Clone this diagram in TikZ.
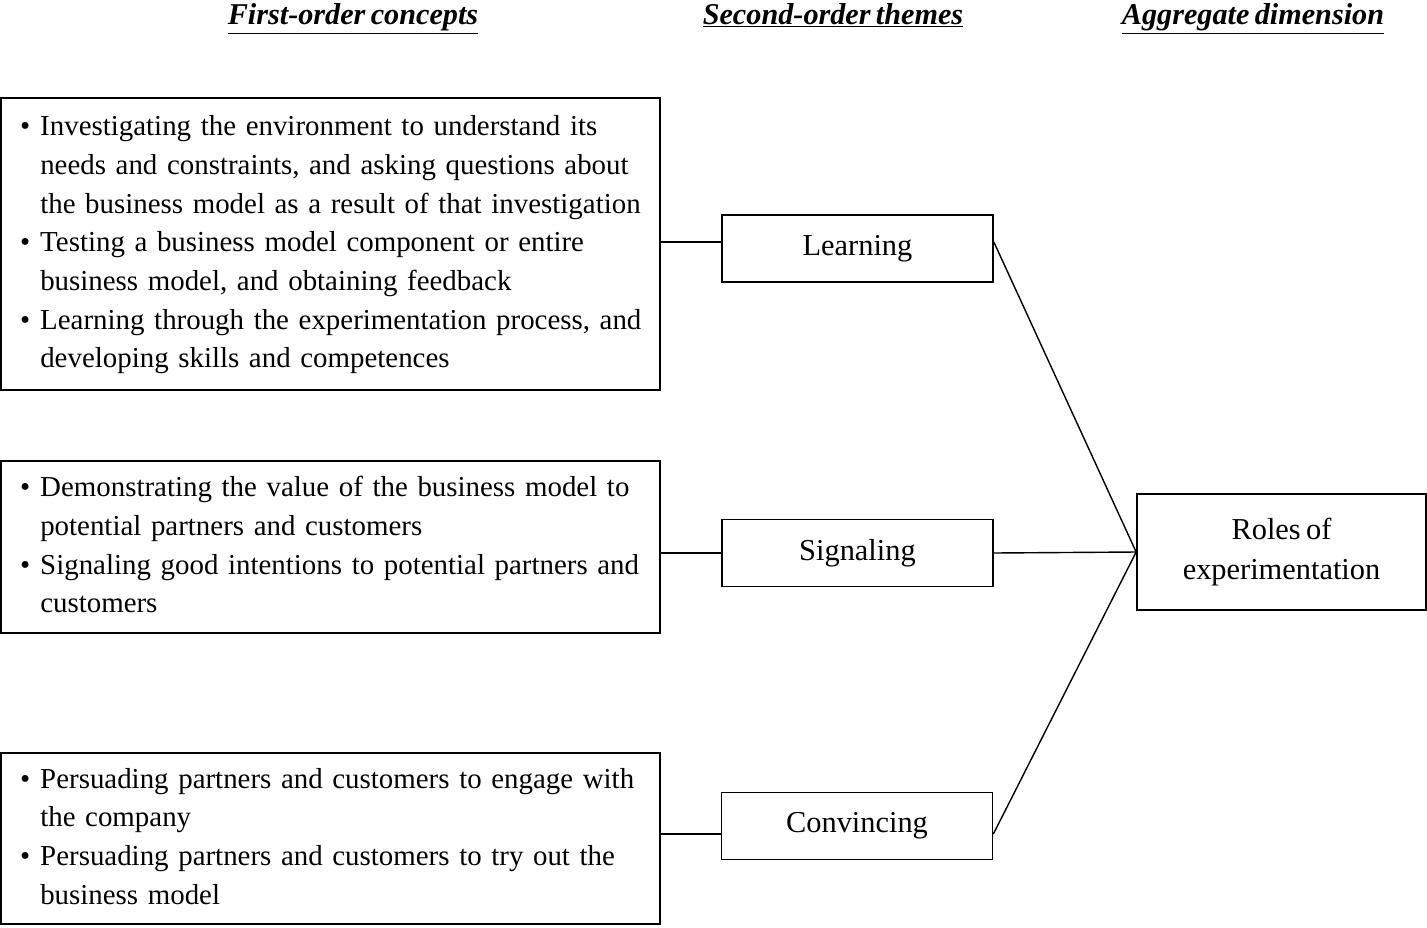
\documentclass[tikz,border=0pt]{standalone}
\usepackage{fontspec}
\setmainfont[WordSpace=0.7]{Liberation Serif}
\newcommand{\bul}{\makebox[11.5pt][l]{\textbullet}}

\begin{document}
\begin{tikzpicture}[x=0.02cm,y=-0.02cm,
    concept/.style={draw, line width=1pt, text width=12.42cm, inner xsep=0.38cm,
      minimum height=#1, align=left, font=\fontsize{16.45}{22}\selectfont},
    theme/.style={draw, line width=1pt, minimum width=5.42cm, minimum height=1.34cm,
      font=\fontsize{17.3}{22.6}\selectfont},
    heading/.style={anchor=base, font=\fontsize{17.2}{20}\selectfont\bfseries\itshape},
    link/.style={line width=0.8pt}]
            % Draw frame
            \useasboundingbox (0,0) rectangle (1427,927);

            % Draw headings
            \node[heading] (h1) at (353,24) {\underline{First-order concepts}};
            \node[heading] (h2) at (833,24) {\underline{Second-order themes}};
            \node[heading] (h3) at (1253,24) {\underline{Aggregate dimension}};

            % Draw first-order boxes
            \node[concept=5.84cm] (inv) at (330.5,244) {\begin{tabular}{@{}l@{}l@{}}
              \bul & Investigating the environment to understand its\\
                   & needs and constraints, and asking questions about\\
                   & the business model as a result of that investigation\\
              \bul & Testing a business model component or entire\\
                   & business model, and obtaining feedback\\
              \bul & Learning through the experimentation process, and\\
                   & developing skills and competences
              \end{tabular}};
            \node[concept=3.44cm] (dem) at (330.5,547) {\begin{tabular}{@{}l@{}l@{}}
              \bul & Demonstrating the value of the business model to\\
                   & potential partners and customers\\
              \bul & Signaling good intentions to potential partners and\\
                   & customers
              \end{tabular}};
            \node[concept=3.42cm] (per) at (330.5,838.5) {\begin{tabular}{@{}l@{}l@{}}
              \bul & Persuading partners and customers to engage with\\
                   & the company\\
              \bul & Persuading partners and customers to try out the\\
                   & business model
              \end{tabular}};

            % Draw themes
            \node[theme] (learning) at (857.5,248.5) {Learning};
            \node[theme] (signaling) at (857.5,553) {Signaling};
            \node[theme] (convincing) at (857,826) {Convincing};
            \node[theme, minimum width=5.78cm, minimum height=2.32cm, align=center] (roles) at (1281.5,552) {Roles of\\experimentation};

            % Draw links
            \draw[link] ([yshift=0.13cm]learning.west) -- ([yshift=0.13cm]learning.west -| inv.east);
            \draw[link] (signaling.west) -- (signaling.west -| dem.east);
            \draw[link] ([yshift=-0.16cm]convincing.west) -- ([yshift=-0.16cm]convincing.west -| per.east);
            \draw[link] ([yshift=0.13cm]learning.east) -- (roles.west);
            \draw[link] (signaling.east) -- (roles.west);
            \draw[link] ([yshift=-0.16cm]convincing.east) -- (roles.west);
\end{tikzpicture}
\end{document}
